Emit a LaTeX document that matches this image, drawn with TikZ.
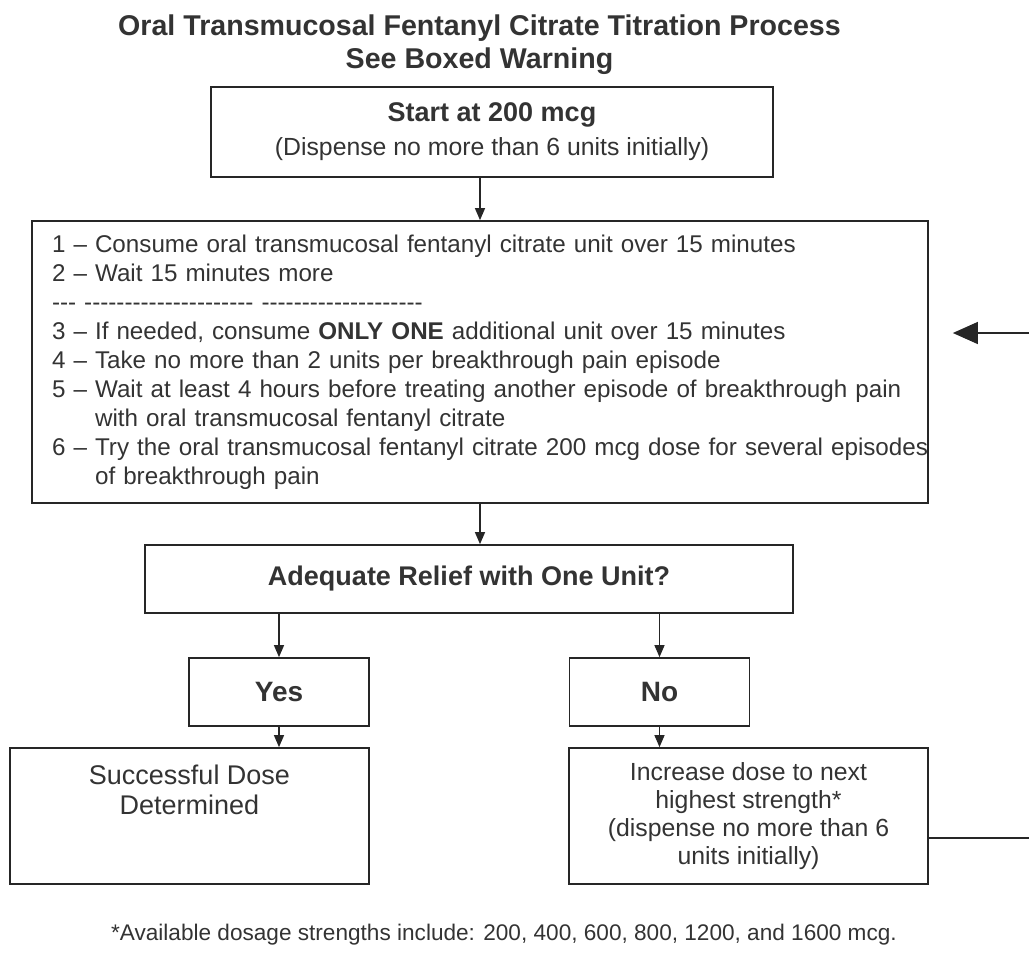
\documentclass[tikz,border=0pt]{standalone}
\usepackage{fontspec}
\setmainfont{Liberation Sans}
\usetikzlibrary{%
  arrows.meta,% Triangle tips
  positioning%
}

% row of single hyphens, no dash ligatures
\newcommand\hyrow[1]{\foreach\k in {1,...,#1}{-\kern0pt}}

\begin{document}
\begin{tikzpicture}
[x=1pt, y=-1pt, draw=black!85, line width=1.7pt, >={Triangle[length=12pt,width=10pt]},
box/.style={rectangle, draw, inner sep=0pt, align=center, text=black!80},
bodyfont/.style={font=\fontsize{24.2}{29}\selectfont},
headfont/.style={font=\fontsize{27}{32}\selectfont\bfseries},
answer/.style={box, font=\fontsize{28}{32}\selectfont\bfseries, minimum width=180pt, minimum height=68pt},
result/.style={box, minimum width=359pt, minimum height=136pt},
conn/.style={->, line width=1.3pt},
bigarrow/.style={-{Triangle[length=25pt,width=22pt]}, line width=1.3pt}]

\useasboundingbox (0,0) rectangle (1029,959);

% heading
\node[anchor=base, text=black!80, font=\fontsize{28.6}{33}\selectfont\bfseries] (title1) at (479.5,35) {Oral Transmucosal Fentanyl Citrate Titration Process};
\node[anchor=base, text=black!80, font=\fontsize{28.6}{33}\selectfont\bfseries] (title2) at (479.5,68) {See Boxed Warning};

% boxes
\node[box, font=\fontsize{24.8}{34}\selectfont, minimum width=562pt, minimum height=90pt] (start) at (492,132)
  {{\fontsize{27}{34}\selectfont\bfseries Start at 200 mcg}\\(Dispense no more than 6 units initially)};

\node[box, bodyfont, align=left, text width=856pt, inner xsep=20pt, minimum width=896pt, minimum height=282pt] (steps) at (480,362)
  {1 – Consume oral transmucosal fentanyl citrate unit over 15 minutes\\
   2 – Wait 15 minutes more\\
   \hyrow{3}\ \hyrow{21}\ \hyrow{20}\\
   3 – If needed, consume \textbf{ONLY ONE} additional unit over 15 minutes\\
   4 – Take no more than 2 units per breakthrough pain episode\\
   \mbox{5 – Wait at least 4 hours before treating another episode of breakthrough pain}\\
   \phantom{5 – }with oral transmucosal fentanyl citrate\\
   \mbox{6 – Try the oral transmucosal fentanyl citrate 200 mcg dose for several episodes}\\
   \phantom{6 – }of breakthrough pain};

\node[box, headfont, minimum width=648pt, minimum height=68pt] (relief) at (469,579) {Adequate Relief with One Unit?};

\node[answer] (yes) at (279,692) {Yes};
\node[answer] (no) at (659.5,692) {No};

\node[result, label={[anchor=north, inner sep=0pt, yshift=-17pt, align=center, text=black!80, font=\fontsize{27}{30}\selectfont]north:Successful Dose\\Determined}] (done) at (189.5,816) {};
\node[result, font=\fontsize{24.8}{28}\selectfont] (raise) at (748.5,816)
  {Increase dose to next\\highest strength*\\(dispense no more than 6\\units initially)};

% footnote
\node[text=black!80, font=\fontsize{22.6}{26}\selectfont] (note) at (504,935) {*Available dosage strengths include: 200, 400, 600, 800, 1200, and 1600 mcg.};

% connectors
\draw[conn] (start.south -| steps.north) -- (steps.north);
\draw[conn] (steps.south) -- (steps.south |- relief.north);
\draw[conn] (yes.north |- relief.south) -- (yes.north);
\draw[conn] (no.north |- relief.south) -- (no.north);
\draw[conn] (yes.south) -- (yes.south |- done.north);
\draw[conn] (no.south) -- (no.south |- raise.north);

% loop back, leaves the page on the right
\coordinate (backout) at (1029,838);
\coordinate (backin) at (1029,333);
\draw[line width=1.3pt] (raise.east |- backout) -- (backout);
\draw[bigarrow, shorten >=24pt] (backin) -- (steps.east |- backin);

\end{tikzpicture}
\end{document}
